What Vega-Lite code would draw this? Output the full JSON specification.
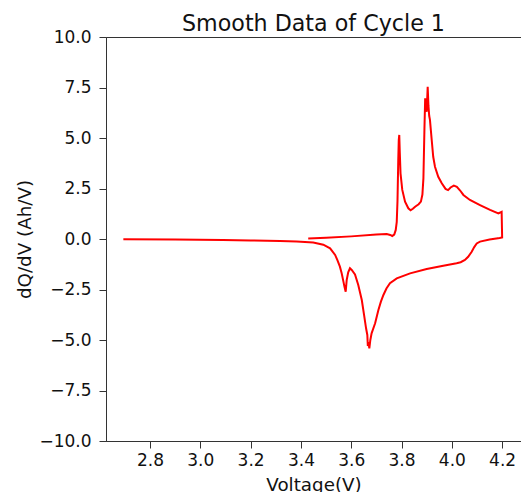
{
  "$schema": "https://vega.github.io/schema/vega-lite/v6.json",
  "width": 415,
  "height": 404,
  "autosize": {"type": "none"},
  "padding": {"left": 106, "top": 37, "right": 0, "bottom": 51},
  "title": {"text": "Smooth Data of Cycle 1", "fontSize": 22.2, "font": "DejaVu Sans", "fontWeight": "normal", "color": "#111", "offset": -7},
  "config": {
    "view": {"stroke": "#333", "strokeWidth": 1},
    "axis": {"grid": false, "domainColor": "#333", "tickColor": "#333", "labelFont": "DejaVu Sans", "titleFont": "DejaVu Sans", "labelFontSize": 17, "titleFontSize": 18.3, "titleFontWeight": "normal", "labelColor": "#111", "titleColor": "#111", "tickSize": 7}
  },
  "data": {"values": [
    {"i":1,"v":3.429,"q":0.02},{"i":2,"v":3.5,"q":0.06},{"i":3,"v":3.6,"q":0.13},{"i":4,"v":3.7,"q":0.22},
    {"i":5,"v":3.741,"q":0.25},{"i":6,"v":3.755,"q":0.2},{"i":7,"v":3.763,"q":0.15},{"i":8,"v":3.771,"q":0.22},
    {"i":9,"v":3.777,"q":0.45},{"i":10,"v":3.781,"q":0.85},{"i":11,"v":3.784,"q":1.9},{"i":12,"v":3.787,"q":3.9},
    {"i":13,"v":3.789,"q":4.9},{"i":14,"v":3.791,"q":5.15},{"i":15,"v":3.793,"q":4.3},{"i":16,"v":3.796,"q":3.25},
    {"i":17,"v":3.803,"q":2.43},{"i":18,"v":3.814,"q":1.85},{"i":19,"v":3.827,"q":1.52},{"i":20,"v":3.836,"q":1.42},
    {"i":21,"v":3.845,"q":1.5},{"i":22,"v":3.854,"q":1.6},{"i":23,"v":3.868,"q":1.72},{"i":24,"v":3.877,"q":1.85},
    {"i":25,"v":3.883,"q":2.2},{"i":26,"v":3.887,"q":3.0},{"i":27,"v":3.891,"q":5.4},{"i":28,"v":3.894,"q":6.97},
    {"i":29,"v":3.897,"q":6.5},{"i":30,"v":3.9,"q":6.3},{"i":31,"v":3.904,"q":7.54},{"i":32,"v":3.907,"q":6.6},
    {"i":33,"v":3.91,"q":6.1},{"i":34,"v":3.913,"q":5.9},{"i":35,"v":3.92,"q":4.9},{"i":36,"v":3.926,"q":4.07},
    {"i":37,"v":3.933,"q":3.58},{"i":38,"v":3.946,"q":3.08},{"i":39,"v":3.96,"q":2.76},{"i":40,"v":3.975,"q":2.48},
    {"i":41,"v":3.985,"q":2.42},{"i":42,"v":3.995,"q":2.55},{"i":43,"v":4.008,"q":2.64},{"i":44,"v":4.02,"q":2.58},
    {"i":45,"v":4.033,"q":2.4},{"i":46,"v":4.046,"q":2.18},{"i":47,"v":4.072,"q":1.93},{"i":48,"v":4.112,"q":1.68},
    {"i":49,"v":4.152,"q":1.44},{"i":50,"v":4.185,"q":1.27},{"i":51,"v":4.198,"q":1.35},{"i":52,"v":4.2,"q":0.08},
    {"i":53,"v":4.19,"q":0.05},{"i":54,"v":4.15,"q":-0.03},{"i":55,"v":4.112,"q":-0.13},{"i":56,"v":4.099,"q":-0.22},
    {"i":57,"v":4.089,"q":-0.4},{"i":58,"v":4.079,"q":-0.63},{"i":59,"v":4.065,"q":-0.88},{"i":60,"v":4.052,"q":-1.04},
    {"i":61,"v":4.035,"q":-1.15},{"i":62,"v":4.019,"q":-1.2},{"i":63,"v":3.966,"q":-1.32},{"i":64,"v":3.9,"q":-1.49},
    {"i":65,"v":3.834,"q":-1.7},{"i":66,"v":3.781,"q":-1.95},{"i":67,"v":3.754,"q":-2.19},{"i":68,"v":3.74,"q":-2.45},
    {"i":69,"v":3.728,"q":-2.77},{"i":70,"v":3.718,"q":-3.1},{"i":71,"v":3.708,"q":-3.51},{"i":72,"v":3.695,"q":-4.17},
    {"i":73,"v":3.681,"q":-4.67},{"i":74,"v":3.676,"q":-5.0},{"i":75,"v":3.672,"q":-5.41},{"i":76,"v":3.668,"q":-5.1},
    {"i":77,"v":3.666,"q":-5.3},{"i":78,"v":3.664,"q":-4.75},{"i":79,"v":3.659,"q":-4.42},{"i":80,"v":3.651,"q":-3.76},
    {"i":81,"v":3.642,"q":-3.02},{"i":82,"v":3.628,"q":-2.28},{"i":83,"v":3.615,"q":-1.75},{"i":84,"v":3.602,"q":-1.53},
    {"i":85,"v":3.595,"q":-1.45},{"i":86,"v":3.588,"q":-1.65},{"i":87,"v":3.582,"q":-2.03},{"i":88,"v":3.578,"q":-2.61},
    {"i":89,"v":3.573,"q":-2.35},{"i":90,"v":3.569,"q":-2.11},{"i":91,"v":3.562,"q":-1.7},{"i":92,"v":3.555,"q":-1.37},
    {"i":93,"v":3.545,"q":-1.05},{"i":94,"v":3.536,"q":-0.79},{"i":95,"v":3.516,"q":-0.46},{"i":96,"v":3.489,"q":-0.28},
    {"i":97,"v":3.449,"q":-0.17},{"i":98,"v":3.383,"q":-0.12},{"i":99,"v":3.317,"q":-0.1},{"i":100,"v":3.2,"q":-0.07},
    {"i":101,"v":3.09,"q":-0.05},{"i":102,"v":2.9,"q":-0.03},{"i":103,"v":2.694,"q":-0.01}
  ]},
  "mark": {"type": "line", "color": "#ff0000", "strokeWidth": 2},
  "encoding": {
    "x": {"field": "v", "type": "quantitative", "scale": {"domain": [2.625, 4.275], "nice": false, "zero": false},
      "axis": {"values": [2.8, 3.0, 3.2, 3.4, 3.6, 3.8, 4.0, 4.2], "format": ".1f", "title": "Voltage(V)", "labelPadding": 4, "titlePadding": 8}},
    "y": {"field": "q", "type": "quantitative", "scale": {"domain": [-10, 10], "nice": false},
      "axis": {"values": [-10, -7.5, -5, -2.5, 0, 2.5, 5, 7.5, 10], "format": ".1f", "title": "dQ/dV (Ah/V)", "labelPadding": 8, "titlePadding": 4}},
    "order": {"field": "i", "type": "quantitative"}
  }
}
